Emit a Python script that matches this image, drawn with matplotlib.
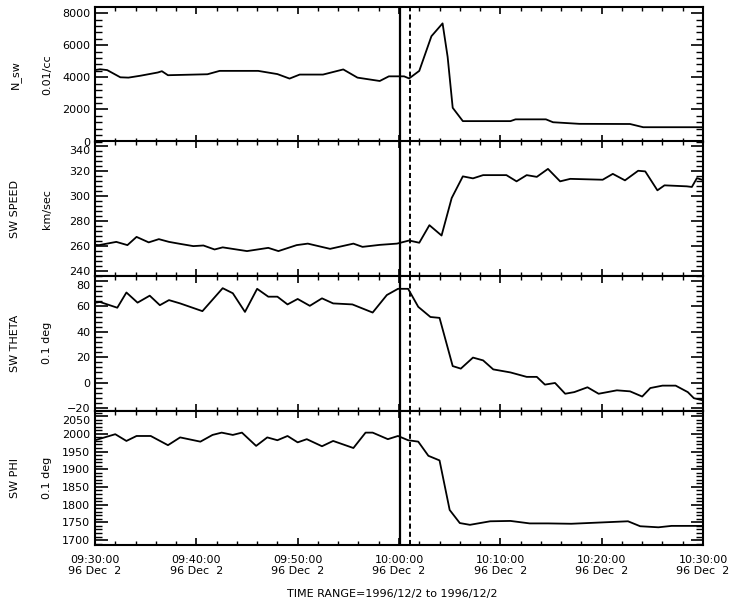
import matplotlib
matplotlib.use('Agg')
import matplotlib.pyplot as plt
from matplotlib.ticker import MultipleLocator, AutoMinorLocator

# minutes after 09:30:00 UT, 1996-12-02
nsw_t = [0, 0.5, 1.2, 2.5, 3.3, 4.5, 6.2, 6.6, 7.2, 11.1, 12.3, 16.1, 18.0, 19.2, 20.2,
         22.5, 24.5, 25.9, 28.1, 29.0, 30.5, 31.0, 32.0, 33.2, 34.3, 34.8, 35.3, 36.3, 41.0,
         41.5, 44.5, 45.2, 47.8, 52.8, 54.1, 60]
nsw_v = [4450, 4500, 4450, 4000, 3980, 4100, 4300, 4380, 4130, 4190, 4400, 4400, 4200, 3920,
         4170, 4170, 4490, 3980, 3770, 4060, 4060, 3930, 4400, 6560, 7360, 5270, 2100, 1270,
         1270, 1380, 1380, 1200, 1100, 1090, 890, 890]

spd_t = [0, 0.4, 2.1, 3.2, 4.1, 5.3, 6.3, 7.3, 8.4, 9.7, 10.7, 11.8, 12.6, 15.0, 17.1, 18.1,
         19.9, 21.0, 23.2, 25.5, 26.4, 28.1, 29.8, 31.0, 32.0, 33.0, 34.2, 35.2, 36.3, 37.3,
         38.3, 40.6, 41.6, 42.6, 43.6, 44.7, 45.9, 46.9, 50.1, 51.1, 52.3, 53.6, 54.3, 55.5,
         56.2, 58.4, 58.9, 59.4, 60]
spd_v = [261, 260.8, 263.4, 260.8, 267.4, 263, 265.6, 263.4, 261.8, 260, 260.5, 257.3, 259,
         256, 258.6, 256, 260.8, 262, 257.8, 262, 259.4, 261, 262, 264.5, 262.7, 276.8, 268.5,
         298.6, 316, 314.4, 317, 317, 312, 317, 315.6, 322, 312, 314, 313.3, 318, 312.8, 320.5,
         320, 304.8, 308.8, 308, 307.5, 314.6, 313]

th_t = [0, 0.5, 2.2, 3.1, 4.2, 5.4, 6.4, 7.3, 8.4, 10.6, 12.6, 13.6, 14.8, 16.0, 17.1, 18.0,
        19.0, 20.0, 21.2, 22.4, 23.5, 25.4, 27.4, 28.8, 29.9, 30.9, 31.9, 33.1, 34.0, 35.3,
        36.1, 37.3, 38.3, 39.3, 41.0, 42.6, 43.6, 44.4, 45.4, 46.4, 47.3, 48.6, 49.7, 51.5,
        52.8, 54.0, 54.8, 56.0, 57.3, 58.5, 59.1, 60]
th_v = [63, 63.5, 59, 71, 63, 68.5, 61, 65, 62.4, 56.3, 74.4, 70.4, 55.7, 73.9, 67.7, 67.7,
        61.6, 65.9, 60.5, 66.4, 62.4, 61.6, 55.2, 69, 73.9, 73.9, 59.7, 51.7, 51, 13, 11, 19.7,
        17.5, 10.4, 8, 4.5, 4.5, -1.6, -0.3, -8.8, -7.5, -3.7, -8.8, -6.1, -6.9, -11, -4.3,
        -2.4, -2.4, -7.5, -12.3, -14]

phi_t = [0, 2.0, 3.1, 4.1, 5.5, 7.2, 8.4, 10.4, 11.6, 12.5, 13.6, 14.5, 15.9, 17.0, 18.0,
         19.0, 20.0, 20.9, 22.4, 23.5, 25.5, 26.7, 27.4, 28.9, 29.9, 30.9, 31.9, 32.9, 34.0,
         35.0, 36.0, 37.0, 39.0, 41.0, 42.9, 44.7, 47.0, 52.6, 53.8, 55.6, 56.9, 60]
phi_v = [1982, 1999, 1980, 1994, 1994, 1968, 1990, 1978, 1997, 2003.5, 1997, 2003.5, 1966,
         1990, 1982, 1994, 1976, 1985, 1965, 1980, 1960, 2003.5, 2003.5, 1985, 1994, 1982,
         1978, 1938, 1925, 1785, 1748, 1743, 1753, 1754, 1747, 1747, 1746, 1753, 1739, 1736,
         1740, 1740]

tick_pos = [0, 10, 20, 30, 40, 50, 60]
tick_times = ['09:30:00', '09:40:00', '09:50:00', '10:00:00', '10:10:00', '10:20:00', '10:30:00']
tick_date = '96 Dec  2'

panels = [
    ('N_sw', '0.01/cc', nsw_t, nsw_v, (0, 8380), 2000),
    ('SW SPEED', 'km/sec', spd_t, spd_v, (236, 344), 20),
    ('SW THETA', '0.1 deg', th_t, th_v, (-22, 84), 20),
    ('SW PHI', '0.1 deg', phi_t, phi_v, (1686, 2066), 50),
]

plt.rcParams['font.family'] = ['DejaVu Sans']
plt.rcParams['font.size'] = 8

fig = plt.figure(figsize=(7.31, 6.10), dpi=100)
left, right, top, bottom = 95 / 731, 703 / 731, 1 - 7 / 610, 1 - 545 / 610
h = (top - bottom) / len(panels)

axes = []
for i, (name, unit, t, v, ylim, step) in enumerate(panels):
    ax = fig.add_axes([left, top - (i + 1) * h, right - left, h])
    axes.append(ax)
    ax.plot(t, v, color='black', lw=1.3)
    ax.set_xlim(0, 60)
    ax.set_ylim(*ylim)
    ax.yaxis.set_major_locator(MultipleLocator(step))
    ax.yaxis.set_minor_locator(AutoMinorLocator(5))
    ax.set_xticks(tick_pos)
    ax.xaxis.set_minor_locator(MultipleLocator(2))
    ax.tick_params(axis='y', which='major', direction='in', length=9, width=1.2,
                   left=True, right=True, labelsize=8)
    ax.tick_params(axis='y', which='minor', direction='in', length=5, width=1.0,
                   left=True, right=True)
    ax.tick_params(axis='x', which='major', direction='in', length=5, width=1.2,
                   top=True, bottom=True, labelsize=8)
    ax.tick_params(axis='x', which='minor', direction='in', length=3, width=1.0,
                   top=True, bottom=True)
    for s in ax.spines.values():
        s.set_linewidth(1.5)
    # event markers
    ax.axvline(30.1, color='black', lw=1.6)
    ax.axvline(31.1, color='black', lw=1.4, ls=(0, (2.6, 1.6)))
    if i < len(panels) - 1:
        ax.tick_params(axis='x', labelbottom=False)
    else:
        ax.set_xticklabels([s + '\n' + tick_date for s in tick_times])
        ax.tick_params(axis='x', pad=7)
    yc = top - (i + 0.5) * h
    fig.text(15 / 731, yc, name, rotation=90, ha='center', va='center', fontsize=8)
    fig.text(47 / 731, yc, unit, rotation=90, ha='center', va='center', fontsize=8)

# the top label of a lower panel hangs below its tick so it clears the panel above
fig.canvas.draw()
for ax in axes[1:]:
    lo, hi = ax.get_ylim()
    for tk in ax.yaxis.get_major_ticks():
        val = tk.get_loc()
        if val <= hi and (hi - val) / (hi - lo) < 0.06:
            tk.label1.set_va('top')

fig.text(392 / 731, 1 - 594 / 610, 'TIME RANGE=1996/12/2 to 1996/12/2',
         ha='center', va='center', fontsize=8)

fig.savefig('out.png', dpi=100)
